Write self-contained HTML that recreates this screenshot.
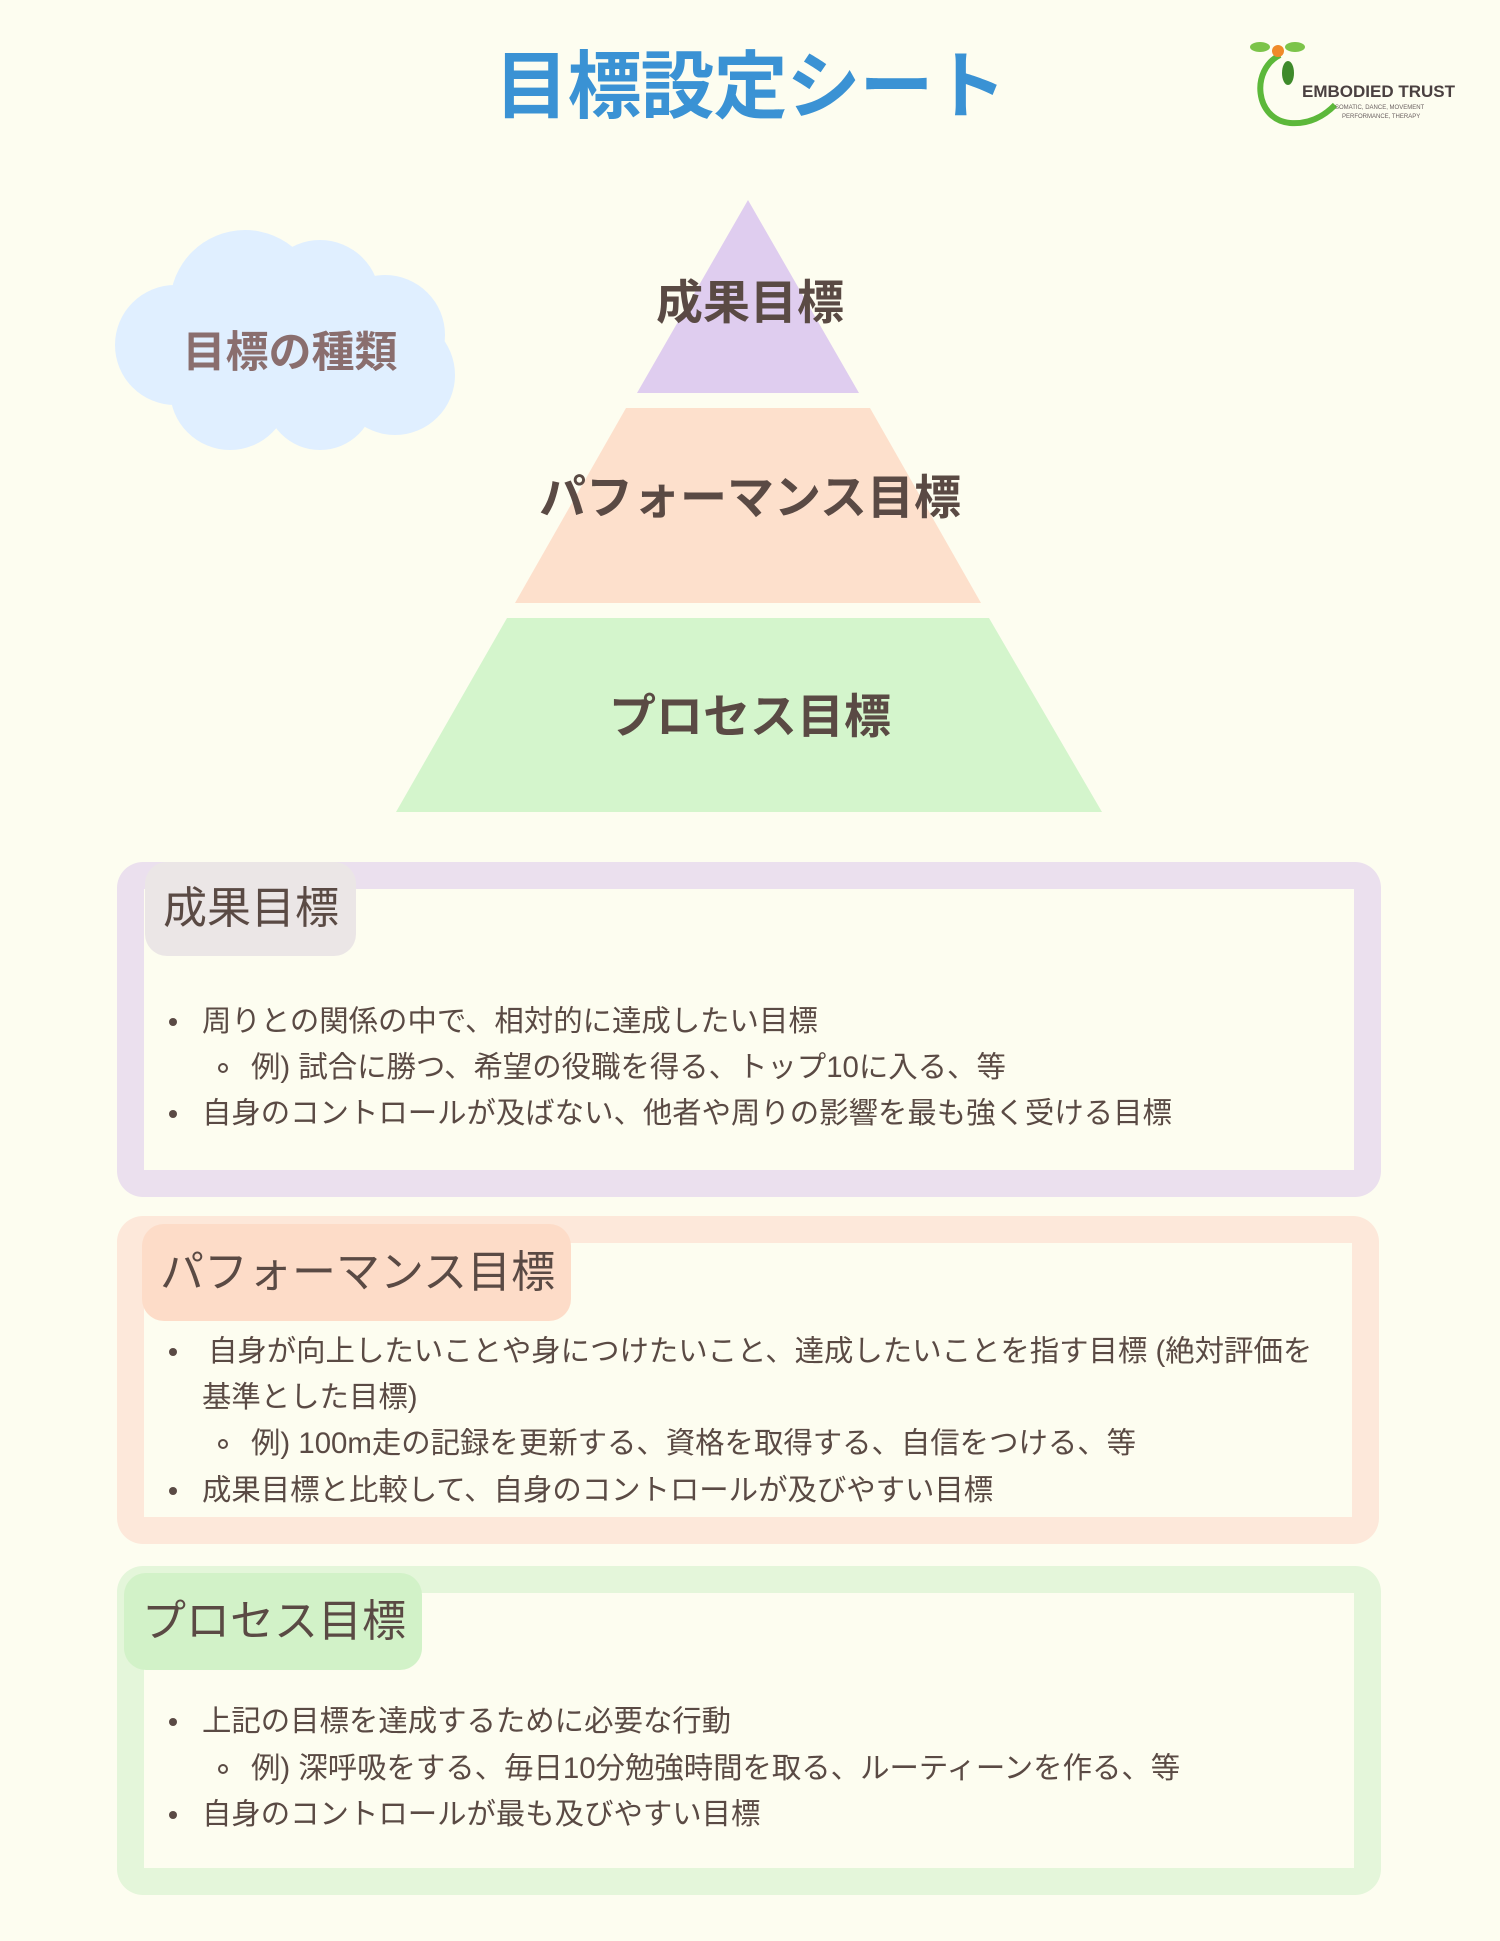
<!DOCTYPE html>
<html><head><meta charset="utf-8"><style>
*{margin:0;padding:0;box-sizing:border-box}
body{width:1500px;height:1941px;background:#fdfdf0;position:relative;overflow:hidden;font-family:"Liberation Sans","Noto Sans CJK JP",sans-serif;color:#5a4a44}
.abs{position:absolute}
.title{left:0;width:1500px;top:42px;text-align:center;font-size:74px;font-weight:bold;color:#3a92d4;letter-spacing:-1px;line-height:90px}
.box{position:absolute;border:27px solid;border-radius:26px;background:#fdfdf0}
.tab{position:absolute;border-radius:22px;font-size:44px;line-height:1;display:flex;align-items:center;padding-left:18px}
.ln{position:absolute;font-size:29.4px;white-space:nowrap;line-height:1}
.b{position:absolute;width:8px;height:8px;border-radius:50%;background:#5a4a44}
.c{position:absolute;width:10px;height:10px;border-radius:50%;border:2px solid #5a4a44}
.pl{position:absolute;left:0;width:1500px;text-align:center;font-weight:bold;font-size:47px;color:#5a4a44;line-height:1}
</style></head><body>
<div class="abs title">目標設定シート</div>

<svg class="abs" style="left:1240px;top:35px" width="230" height="95" viewBox="0 0 230 95">
<path d="M40 20 C10 35 15 85 50 88 C75 90 90 75 95 70" fill="none" stroke="#5cb83a" stroke-width="6"/>
<ellipse cx="20" cy="12" rx="10" ry="5" fill="#7cc44a"/><ellipse cx="55" cy="12" rx="10" ry="5" fill="#7cc44a"/>
<circle cx="38" cy="16" r="6" fill="#f08a2a"/><ellipse cx="48" cy="38" rx="6" ry="12" fill="#3e8a2a"/>
<text x="62" y="62" font-family="Liberation Sans" font-size="17" font-weight="bold" fill="#4a4040">EMBODIED TRUST</text>
<text x="95" y="74" font-family="Liberation Sans" font-size="6" fill="#6a6060">SOMATIC, DANCE, MOVEMENT</text>
<text x="102" y="83" font-family="Liberation Sans" font-size="6" fill="#6a6060">PERFORMANCE, THERAPY</text>
</svg>

<svg class="abs" style="left:0;top:0" width="1500" height="830">
<g fill="#e0efff">
<circle cx="245" cy="305" r="75"/><circle cx="320" cy="300" r="60"/><circle cx="385" cy="335" r="60"/><circle cx="395" cy="375" r="60"/><circle cx="320" cy="395" r="55"/><circle cx="230" cy="390" r="60"/><circle cx="175" cy="345" r="60"/><circle cx="290" cy="345" r="80"/>
</g>
<polygon points="748,200 859,393 637,393" fill="#dfcdef"/>
<polygon points="626,408 870,408 981,603 515,603" fill="#fde0cc"/>
<polygon points="507,618 989,618 1102,812 396,812" fill="#d4f5cc"/>
</svg>
<div class="abs" style="left:120px;width:340px;top:318px;text-align:center;font-size:43px;font-weight:bold;color:#8a6e6e">目標の種類</div>
<div class="pl" style="top:279px">成果目標</div>
<div class="pl" style="top:474px">パフォーマンス目標</div>
<div class="pl" style="top:693px">プロセス目標</div>

<div class="box" style="left:117px;top:862px;width:1264px;height:335px;border-color:#ebe0ee"></div>
<div class="tab" style="left:145px;top:862px;width:211px;height:94px;background:#ebe6e6">成果目標</div>
<div class="b" style="left:169px;top:1018px"></div><div class="ln" style="left:202px;top:1007px">周りとの関係の中で、相対的に達成したい目標</div>
<div class="c" style="left:218px;top:1063px"></div><div class="ln" style="left:251px;top:1053px">例) 試合に勝つ、希望の役職を得る、トップ10に入る、等</div>
<div class="b" style="left:169px;top:1110px"></div><div class="ln" style="left:202px;top:1099px">自身のコントロールが及ばない、他者や周りの影響を最も強く受ける目標</div>

<div class="box" style="left:117px;top:1216px;width:1262px;height:328px;border-color:#fde8da"></div>
<div class="tab" style="left:142px;top:1224px;width:429px;height:97px;background:#fddcc8">パフォーマンス目標</div>
<div class="b" style="left:169px;top:1348px"></div><div class="ln" style="left:208px;top:1337px">自身が向上したいことや身につけたいこと、達成したいことを指す目標 (絶対評価を</div>
<div class="ln" style="left:202px;top:1383px">基準とした目標)</div>
<div class="c" style="left:218px;top:1439px"></div><div class="ln" style="left:251px;top:1429px">例) 100m走の記録を更新する、資格を取得する、自信をつける、等</div>
<div class="b" style="left:169px;top:1487px"></div><div class="ln" style="left:202px;top:1476px">成果目標と比較して、自身のコントロールが及びやすい目標</div>

<div class="box" style="left:117px;top:1566px;width:1264px;height:329px;border-color:#e4f6da"></div>
<div class="tab" style="left:124px;top:1573px;width:298px;height:97px;background:#d2f2c8">プロセス目標</div>
<div class="b" style="left:169px;top:1718px"></div><div class="ln" style="left:202px;top:1707px">上記の目標を達成するために必要な行動</div>
<div class="c" style="left:218px;top:1764px"></div><div class="ln" style="left:251px;top:1754px">例) 深呼吸をする、毎日10分勉強時間を取る、ルーティーンを作る、等</div>
<div class="b" style="left:169px;top:1811px"></div><div class="ln" style="left:202px;top:1800px">自身のコントロールが最も及びやすい目標</div>
</body></html>
